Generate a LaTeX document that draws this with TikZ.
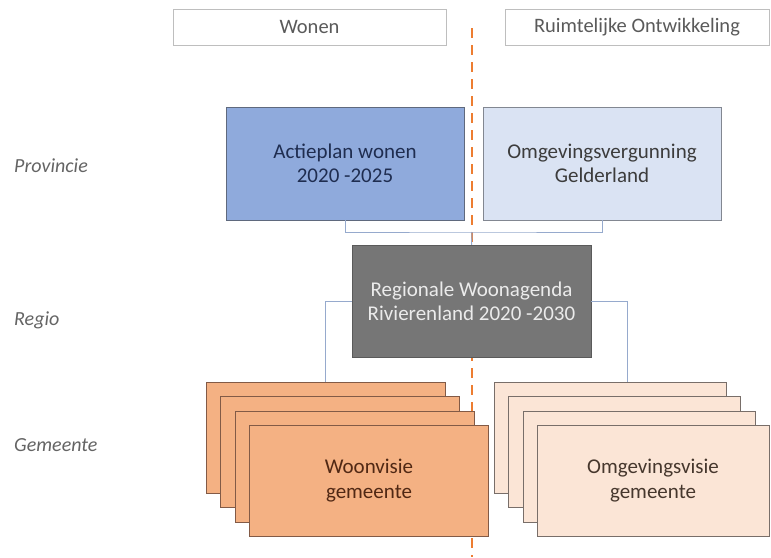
\documentclass[tikz,border=0pt]{standalone}
\usepackage{fontspec}
\setmainfont{Carlito}
\usepackage{tikz}
\usetikzlibrary{positioning}
\definecolor{dashorange}{RGB}{237,125,49}
\definecolor{linkblue}{RGB}{150,170,205}
\definecolor{actieblue}{RGB}{143,170,220}
\definecolor{lightblue}{RGB}{218,227,243}
\definecolor{regiogray}{RGB}{118,118,118}
\definecolor{woonorange}{RGB}{244,177,131}
\definecolor{visiepeach}{RGB}{251,229,214}
\tikzstyle{header} = [rectangle, minimum height=36pt, inner sep=0pt, draw={rgb,255:red,190;green,190;blue,190}, fill=white, text={rgb,255:red,90;green,90;blue,90}, font=\fontsize{20.5}{24}\selectfont]
\tikzstyle{plan} = [rectangle, minimum width=238pt, minimum height=113pt, inner sep=0pt, align=center, font=\fontsize{21}{24}\selectfont]
\tikzstyle{card} = [rectangle, minimum height=111pt, inner sep=0pt, align=center, font=\fontsize{21}{25}\selectfont]
\tikzstyle{woon} = [card, minimum width=239pt, draw={rgb,255:red,130;green,90;blue,70}, fill=woonorange, text={rgb,255:red,80;green,40;blue,20}]
\tikzstyle{visie} = [card, minimum width=232pt, draw={rgb,255:red,120;green,110;blue,105}, fill=visiepeach, text={rgb,255:red,70;green,55;blue,45}]
\tikzstyle{level} = [anchor=west, inner sep=0pt, text={rgb,255:red,100;green,100;blue,100}, font=\fontsize{20}{24}\selectfont\itshape]
\tikzstyle{link} = [linkblue, line width=1pt]

\begin{document}
\begin{tikzpicture}[x=1pt, y=-1pt]
	\useasboundingbox (0,0) rectangle (771,557);

	\draw [dashorange, line width=2.5pt, dash pattern=on 10pt off 7pt] (472,28) -- (472,557);

	\node (wonen)[header, minimum width=273pt] at (309.5,27) {Wonen};
	\node (ruimte)[header, minimum width=264pt] at (637,27) {Ruimtelijke Ontwikkeling};

	\node (provincie)[level] at (14,166) {Provincie};
	\node (regio)[level] at (14,320) {Regio};
	\node (gemeente)[level] at (14,445) {Gemeente};

	\node (actie)[plan, draw={rgb,255:red,95;green,105;blue,125}, fill=actieblue, text={rgb,255:red,31;green,45;blue,80}] at (345,163.5) {Actieplan wonen\\2020 -2025};
	\node (omgev)[plan, draw={rgb,255:red,130;green,135;blue,145}, fill=lightblue, text={rgb,255:red,60;green,60;blue,60}] at (602,163.5) {Omgevingsvergunning\\Gelderland};

	\node (agenda)[plan, minimum width=239pt, minimum height=112pt, draw={rgb,255:red,90;green,90;blue,90}, fill=regiogray, text={rgb,255:red,235;green,235;blue,235}] at (471.5,301) {Regionale Woonagenda\\Rivierenland 2020 -2030};

	\node (woonA)[woon] at (325.5,437.5) {};
	\node (woonB)[woon] at (340,452) {};
	\node (woonC)[woon] at (354.5,466.5) {};
	\node (woonD)[woon] at (369,481) {Woonvisie\\gemeente};

	\node (visieA)[visie] at (610,437.5) {};
	\node (visieB)[visie] at (624,452) {};
	\node (visieC)[visie] at (639,466.5) {};
	\node (visieD)[visie] at (653,481) {Omgevingsvisie\\gemeente};

	\coordinate (join) at (472,232);
	\draw [link] (actie.south) |- (join) -| (omgev.south);
	\draw [link] (join) -- (agenda.north);
	\draw [link] (agenda.west) -| (woonA.north);
	\draw [link] (agenda.east) -| ([xshift=17pt]visieA.north);

\end{tikzpicture}
\end{document}
